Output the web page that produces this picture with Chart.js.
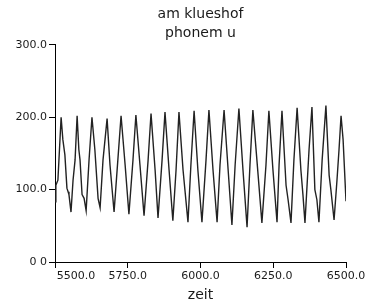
<!DOCTYPE html>
<html>
<head>
<meta charset="utf-8">
<script src="https://cdn.jsdelivr.net/npm/chart.js@4.4.0/dist/chart.umd.min.js"></script>
<style>
  html, body { margin: 0; padding: 0; background: #fff; }
  #wrap { width: 373px; height: 306px; }
</style>
</head>
<body>
<div id="wrap"><canvas id="chart1"></canvas></div>
<script>
const titleLines = ['am klueshof', 'phonem u'];
const xTitle = 'zeit';
const xTicks = [5500, 5750, 6000, 6250, 6500];
const yTicks = [0, 100, 200, 300];

// zeit (x) und wert (y) aus dem bild gelesen
const zeit = [
  5500, 5503, 5510, 5521, 5527, 5534, 5541, 5545, 5548, 5555,
  5562, 5569, 5576, 5582, 5586, 5593, 5600, 5607, 5617, 5627,
  5637, 5648, 5655, 5665, 5679, 5689, 5703, 5716, 5727, 5741,
  5754, 5768, 5778, 5792, 5806, 5820, 5830, 5844, 5854, 5868,
  5878, 5892, 5905, 5916, 5926, 5940, 5957, 5967, 5978, 5991,
  6005, 6019, 6029, 6043, 6057, 6067, 6081, 6095, 6108, 6119,
  6132, 6146, 6160, 6170, 6180, 6198, 6211, 6225, 6235, 6249,
  6263, 6270, 6280, 6294, 6301, 6311, 6321, 6332, 6345, 6352,
  6359, 6373, 6383, 6393, 6400, 6407, 6418, 6431, 6442, 6448,
  6459, 6469, 6476, 6483, 6490, 6500
];
const wert = [
  83, 106, 113, 200, 169, 148, 102, 97, 93, 69,
  113, 141, 202, 155, 141, 93, 88, 71, 141, 200,
  155, 88, 75, 141, 198, 134, 69, 141, 202, 134,
  66, 141, 203, 134, 64, 141, 205, 127, 61, 141,
  207, 127, 57, 127, 207, 127, 55, 134, 209, 127,
  55, 141, 210, 127, 55, 134, 210, 127, 51, 134,
  212, 127, 48, 134, 210, 120, 54, 134, 209, 127,
  55, 134, 209, 106, 86, 54, 141, 213, 127, 93,
  54, 155, 214, 100, 86, 55, 141, 216, 120, 100,
  58, 113, 155, 202, 169, 84
];

const points = zeit.map((t, i) => ({ x: t, y: wert[i] }));

const textColor = '#1a1a1a';
const fontFam = '"DejaVu Sans", sans-serif';

const ctx1 = document.getElementById('chart1').getContext('2d');

const chart1 = new Chart(ctx1, {
  type: 'line',
  data: {
    datasets: [{
      data: points,
      borderColor: '#222',
      borderWidth: 1.4,
      pointRadius: 0,
      tension: 0,
      fill: false
    }]
  },
  options: {
    responsive: true,
    maintainAspectRatio: false,
    animation: false,
    layout: { padding: { left: 0, right: 27, top: 0, bottom: 0 } },
    plugins: {
      legend: { display: false },
      tooltip: { enabled: false },
      title: {
        display: true,
        fullSize: false,
        text: titleLines,
        color: textColor,
        font: { family: fontFam, size: 14, weight: 'normal', lineHeight: 1.35 },
        padding: { top: 5, bottom: 2 }
      }
    },
    scales: {
      x: {
        type: 'linear',
        min: xTicks[0],
        max: xTicks[xTicks.length - 1],
        afterBuildTicks: (axis) => { axis.ticks = xTicks.map(v => ({ value: v })); },
        afterFit: (axis) => { axis.height = 44; },
        grid: { drawOnChartArea: false, drawTicks: true, tickLength: 6, color: '#000' },
        border: { display: true, color: '#000', width: 1 },
        ticks: {
          color: textColor,
          font: { family: fontFam, size: 11 },
          padding: 2,
          maxRotation: 0,
          autoSkip: false,
          callback: (v, i) => i === 0 ? '            ' + v.toFixed(1) : v.toFixed(1)
        },
        title: {
          display: true,
          text: xTitle,
          color: textColor,
          font: { family: fontFam, size: 14 },
          padding: { top: 2, bottom: 2 }
        }
      },
      y: {
        type: 'linear',
        min: yTicks[0],
        max: yTicks[yTicks.length - 1],
        afterBuildTicks: (axis) => { axis.ticks = yTicks.map(v => ({ value: v })); },
        afterFit: (axis) => { axis.width = 55; },
        grid: { drawOnChartArea: false, drawTicks: true, tickLength: 6, color: '#000' },
        border: { display: true, color: '#000', width: 1 },
        ticks: {
          color: textColor,
          font: { family: fontFam, size: 11 },
          padding: 2,
          callback: (v) => v === 0 ? '0 0' : v.toFixed(1)
        }
      }
    }
  }
});
</script>
</body>
</html>
